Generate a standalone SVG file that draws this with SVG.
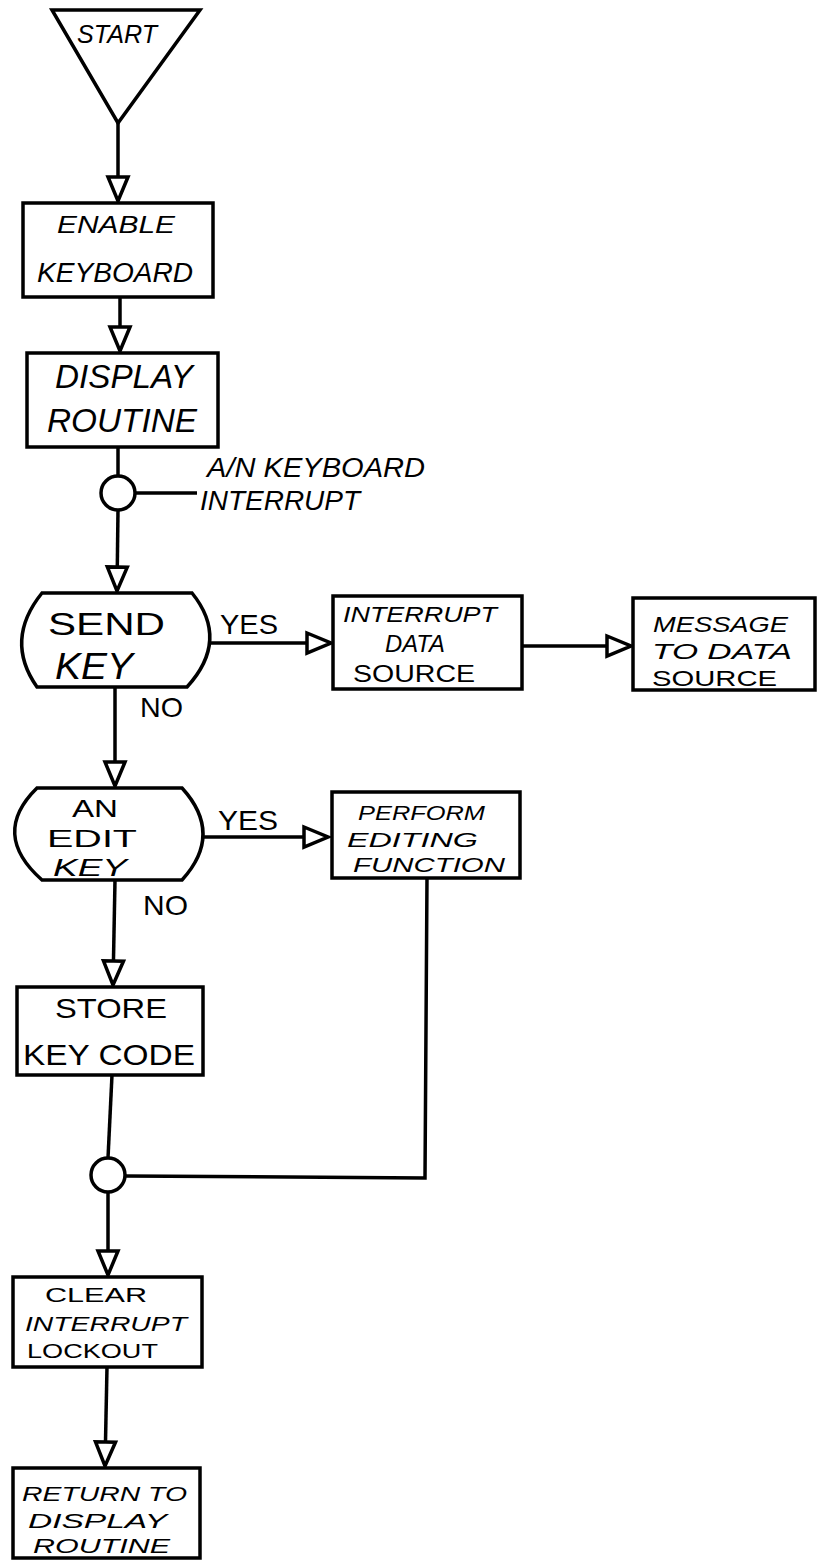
<svg xmlns="http://www.w3.org/2000/svg" width="817" height="1560" viewBox="0 0 817 1560">
<style>
.s{fill:#fff;stroke:#000;stroke-width:3.5;stroke-linejoin:miter}
.c{fill:none;stroke:#000;stroke-width:3.5}
text{font-family:"Liberation Sans",Arial,sans-serif;fill:#000;font-style:italic}
.u{font-style:normal}
</style>
<defs>
<marker id="ah" markerUnits="userSpaceOnUse" markerWidth="34" markerHeight="30" viewBox="-30 -15 34 30" refX="0" refY="0" orient="auto">
<path d="M-24,-10 L0,0 L-24,10 Z" fill="#fff" stroke="#000" stroke-width="3.5"/>
</marker>
</defs>
<rect width="817" height="1560" fill="#fff"/>
<g id="connectors">
<line class="c" x1="118" y1="123" x2="118" y2="201" marker-end="url(#ah)"/>
<line class="c" x1="120" y1="297" x2="120" y2="351" marker-end="url(#ah)"/>
<line class="c" x1="118" y1="447" x2="118" y2="476"/>
<line class="c" x1="135" y1="493" x2="197" y2="493"/>
<line class="c" x1="118" y1="510" x2="117" y2="591" marker-end="url(#ah)"/>
<line class="c" x1="210" y1="643" x2="331" y2="643" marker-end="url(#ah)"/>
<line class="c" x1="522" y1="646" x2="631" y2="646" marker-end="url(#ah)"/>
<line class="c" x1="115" y1="687" x2="115" y2="786" marker-end="url(#ah)"/>
<line class="c" x1="203" y1="837" x2="328" y2="837" marker-end="url(#ah)"/>
<line class="c" x1="115" y1="880" x2="113" y2="985" marker-end="url(#ah)"/>
<line class="c" x1="112" y1="1075" x2="108" y2="1158"/>
<polyline class="c" points="427,877 425,1178 125,1176"/>
<line class="c" x1="108" y1="1192" x2="108" y2="1275" marker-end="url(#ah)"/>
<line class="c" x1="107" y1="1367" x2="105" y2="1466" marker-end="url(#ah)"/>
<text class="u" x="220" y="634" font-size="28" textLength="58" lengthAdjust="spacingAndGlyphs">YES</text>
<text class="u" x="140" y="717" font-size="28" textLength="43" lengthAdjust="spacingAndGlyphs">NO</text>
<text class="u" x="218" y="830" font-size="28" textLength="60" lengthAdjust="spacingAndGlyphs">YES</text>
<text class="u" x="143" y="915" font-size="28" textLength="45" lengthAdjust="spacingAndGlyphs">NO</text>
</g>
<g id="start">
<polygon class="s" points="52,10 200,10 118,123"/>
<text x="77" y="43" font-size="26" textLength="80" lengthAdjust="spacingAndGlyphs">START</text>
</g>
<g id="enable-keyboard">
<rect class="s" x="23" y="203" width="190" height="94"/>
<text x="57" y="233" font-size="24" textLength="118" lengthAdjust="spacingAndGlyphs">ENABLE</text>
<text x="37" y="282" font-size="28" textLength="156" lengthAdjust="spacingAndGlyphs">KEYBOARD</text>
</g>
<g id="display-routine">
<rect class="s" x="27" y="353" width="191" height="94"/>
<text x="55" y="388" font-size="34" textLength="138" lengthAdjust="spacingAndGlyphs">DISPLAY</text>
<text x="47" y="432" font-size="34" textLength="150" lengthAdjust="spacingAndGlyphs">ROUTINE</text>
</g>
<g id="interrupt-connector">
<circle class="s" cx="118" cy="493" r="17"/>
<text x="207" y="477" font-size="27" textLength="218" lengthAdjust="spacingAndGlyphs">A/N KEYBOARD</text>
<text x="200" y="510" font-size="28" textLength="160" lengthAdjust="spacingAndGlyphs">INTERRUPT</text>
</g>
<g id="send-key">
<path class="s" d="M42,593 L192,593 Q230,640 187,687 L37,687 Q4,640 42,593 Z"/>
<text class="u" x="48" y="635" font-size="31" textLength="117" lengthAdjust="spacingAndGlyphs">SEND</text>
<text x="55" y="679" font-size="36" textLength="78" lengthAdjust="spacingAndGlyphs">KEY</text>
</g>
<g id="interrupt-data-source">
<rect class="s" x="333" y="596" width="189" height="93"/>
<text x="343" y="622" font-size="22" textLength="154" lengthAdjust="spacingAndGlyphs">INTERRUPT</text>
<text x="385" y="652" font-size="24" textLength="60" lengthAdjust="spacingAndGlyphs">DATA</text>
<text class="u" x="353" y="682" font-size="24" textLength="122" lengthAdjust="spacingAndGlyphs">SOURCE</text>
</g>
<g id="message-to-data-source">
<rect class="s" x="633" y="598" width="182" height="92"/>
<text x="653" y="632" font-size="22" textLength="135" lengthAdjust="spacingAndGlyphs">MESSAGE</text>
<text x="652" y="659" font-size="22" textLength="140" lengthAdjust="spacingAndGlyphs">TO DATA</text>
<text class="u" x="652" y="686" font-size="22" textLength="125" lengthAdjust="spacingAndGlyphs">SOURCE</text>
</g>
<g id="edit-key">
<path class="s" d="M37,788 L182,788 Q224,834 182,880 L42,880 Q-10,834 37,788 Z"/>
<text class="u" x="72" y="817" font-size="24" textLength="46" lengthAdjust="spacingAndGlyphs">AN</text>
<text class="u" x="47" y="847" font-size="24" textLength="90" lengthAdjust="spacingAndGlyphs">EDIT</text>
<text x="53" y="876" font-size="24" textLength="74" lengthAdjust="spacingAndGlyphs">KEY</text>
</g>
<g id="perform-editing-function">
<rect class="s" x="332" y="792" width="188" height="86"/>
<text x="358" y="820" font-size="20" textLength="127" lengthAdjust="spacingAndGlyphs">PERFORM</text>
<text x="347" y="847" font-size="20" textLength="131" lengthAdjust="spacingAndGlyphs">EDITING</text>
<text x="353" y="872" font-size="20" textLength="152" lengthAdjust="spacingAndGlyphs">FUNCTION</text>
</g>
<g id="store-key-code">
<rect class="s" x="17" y="987" width="186" height="88"/>
<text class="u" x="55" y="1018" font-size="28" textLength="112" lengthAdjust="spacingAndGlyphs">STORE</text>
<text class="u" x="23" y="1065" font-size="30" textLength="172" lengthAdjust="spacingAndGlyphs">KEY  CODE</text>
</g>
<g id="merge-connector">
<circle class="s" cx="108" cy="1175" r="17"/>
</g>
<g id="clear-interrupt-lockout">
<rect class="s" x="13" y="1277" width="189" height="90"/>
<text class="u" x="45" y="1302" font-size="21" textLength="102" lengthAdjust="spacingAndGlyphs">CLEAR</text>
<text x="25" y="1331" font-size="21" textLength="162" lengthAdjust="spacingAndGlyphs">INTERRUPT</text>
<text class="u" x="27" y="1358" font-size="21" textLength="131" lengthAdjust="spacingAndGlyphs">LOCKOUT</text>
</g>
<g id="return-to-display-routine">
<rect class="s" x="13" y="1468" width="187" height="90"/>
<text x="22" y="1501" font-size="21" textLength="165" lengthAdjust="spacingAndGlyphs">RETURN TO</text>
<text x="28" y="1528" font-size="21" textLength="139" lengthAdjust="spacingAndGlyphs">DISPLAY</text>
<text x="33" y="1553" font-size="21" textLength="137" lengthAdjust="spacingAndGlyphs">ROUTINE</text>
</g>
</svg>
